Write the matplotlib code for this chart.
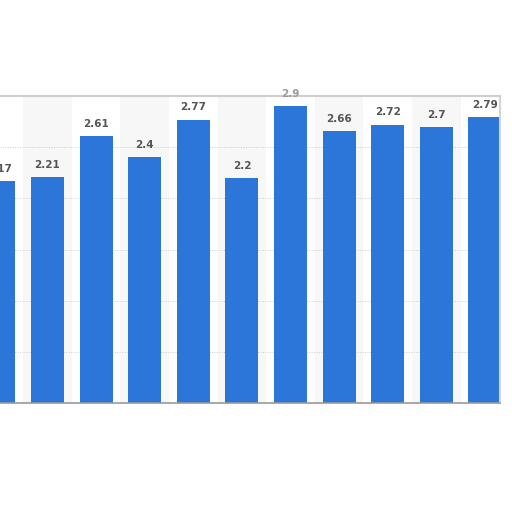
import matplotlib.pyplot as plt

# bar values, left to right (first bar is cut off at the left edge)
values = [2.17, 2.21, 2.61, 2.4, 2.77, 2.2, 2.9, 2.66, 2.72, 2.7, 2.79]
labels = ['2.17', '2.21', '2.61', '2.4', '2.77', '2.2', '2.9', '2.66', '2.72', '2.7', '2.79']
grid_levels = [0.5, 1.0, 1.5, 2.0, 2.5]

fig = plt.figure(figsize=(5.12, 5.12), dpi=100)
ax = fig.add_axes([0.0, 1 - 403 / 512, 500 / 512, (403 - 96) / 512])

x = list(range(len(values)))

# alternating column shading
for i in x:
    if i % 2 == 1:
        ax.axvspan(i - 0.5, i + 0.5, color='#f7f7f7', zorder=0, lw=0)

for g in grid_levels:
    ax.axhline(g, color='#cccccc', lw=0.7, ls=(0, (1, 1.5)), zorder=1)

ax.bar(x, values, width=0.68, color='#2b76d8', zorder=2)

for xi, v, lab in zip(x, values, labels):
    col = '#9a9a9a' if v > 2.85 else '#555555'
    ax.text(xi, v + 0.07, lab, ha='center', va='bottom', fontsize=7.5,
            fontweight='bold', color=col, clip_on=False, zorder=3)

ax.set_xlim(0.023, 10.31)
ax.set_ylim(0, 3)
ax.set_xticks([])
ax.set_yticks([])

for s in ['left']:
    ax.spines[s].set_visible(False)
ax.spines['top'].set_color('#cfcfcf')
ax.spines['top'].set_linewidth(1.5)
ax.spines['right'].set_color('#d5d5d5')
ax.spines['right'].set_linewidth(1.5)
ax.spines['bottom'].set_color('#999999')
ax.spines['bottom'].set_linewidth(1.2)

fig.savefig('out.png', dpi=100)
